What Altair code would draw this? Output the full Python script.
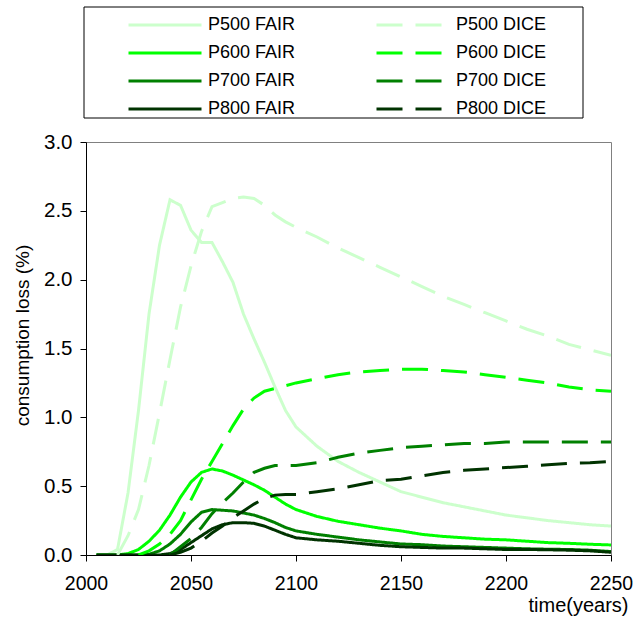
import altair as alt
import pandas as pd

years = [2005, 2010, 2015, 2020, 2025, 2030, 2035, 2040, 2045, 2050, 2055, 2060, 2065,
         2070, 2075, 2080, 2085, 2090, 2095, 2100, 2110, 2120, 2130, 2140, 2150, 2160,
         2170, 2180, 2190, 2200, 2210, 2220, 2230, 2240, 2250]

p500_fair = [0, 0, 0.04, 0.45, 1.05, 1.75, 2.25, 2.58, 2.54, 2.36, 2.27, 2.27, 2.13,
             1.98, 1.75, 1.57, 1.40, 1.22, 1.05, 0.93, 0.79, 0.68, 0.60, 0.53, 0.46, 0.42,
             0.38, 0.35, 0.32, 0.29, 0.27, 0.25, 0.235, 0.22, 0.21]
p500_dice = [None, None, 0, 0.14, 0.33, 0.65, 1.03, 1.42, 1.80, 2.10, 2.35, 2.53, 2.56,
             2.59, 2.60, 2.59, 2.54, 2.47, 2.42, 2.38, 2.31, 2.23, 2.16, 2.09, 2.02, 1.95,
             1.88, 1.82, 1.76, 1.70, 1.64, 1.59, 1.53, 1.49, 1.45]
p600_fair = [0, 0, 0, 0.01, 0.04, 0.10, 0.18, 0.29, 0.42, 0.53, 0.60, 0.625, 0.61,
             0.58, 0.545, 0.51, 0.47, 0.42, 0.37, 0.33, 0.28, 0.245, 0.22, 0.195, 0.175, 0.15,
             0.135, 0.125, 0.115, 0.11, 0.10, 0.09, 0.085, 0.078, 0.073]
p600_dice = [None, None, None, None, 0, 0.03, 0.08, 0.15, 0.25, 0.40, 0.55, 0.68, 0.81,
             0.94, 1.06, 1.14, 1.19, 1.21, 1.23, 1.25, 1.28, 1.31, 1.33, 1.34, 1.35, 1.35,
             1.34, 1.33, 1.31, 1.29, 1.27, 1.25, 1.22, 1.20, 1.19]
p700_fair = [0, 0, 0, 0, 0, 0.005, 0.03, 0.08, 0.15, 0.24, 0.31, 0.33, 0.325,
             0.32, 0.305, 0.29, 0.265, 0.235, 0.20, 0.175, 0.15, 0.13, 0.11, 0.095, 0.08, 0.075,
             0.065, 0.06, 0.055, 0.05, 0.045, 0.042, 0.04, 0.035, 0.025]
p700_dice = [None, None, None, None, None, None, None, 0, 0.06, 0.12, 0.20, 0.30, 0.38,
             0.45, 0.53, 0.60, 0.63, 0.65, 0.65, 0.65, 0.67, 0.71, 0.74, 0.76, 0.78, 0.79,
             0.80, 0.81, 0.81, 0.82, 0.82, 0.82, 0.82, 0.82, 0.82]
p800_fair = [0, 0, 0, 0, 0, 0, 0, 0.01, 0.04, 0.09, 0.14, 0.19, 0.22,
             0.235, 0.235, 0.23, 0.21, 0.18, 0.15, 0.125, 0.11, 0.10, 0.085, 0.07, 0.06, 0.055,
             0.05, 0.05, 0.045, 0.04, 0.04, 0.038, 0.035, 0.03, 0.02]
p800_dice = [None, None, None, None, None, None, None, 0, 0.02, 0.05, 0.10, 0.16, 0.21,
             0.27, 0.32, 0.37, 0.41, 0.435, 0.44, 0.44, 0.46, 0.48, 0.51, 0.54, 0.55, 0.575,
             0.60, 0.615, 0.625, 0.635, 0.645, 0.655, 0.665, 0.67, 0.68]

series_names = ["P500 FAIR", "P600 FAIR", "P700 FAIR", "P800 FAIR",
                "P500 DICE", "P600 DICE", "P700 DICE", "P800 DICE"]
series_values = [p500_fair, p600_fair, p700_fair, p800_fair,
                 p500_dice, p600_dice, p700_dice, p800_dice]
colors = ["#CCFFCC", "#00FF00", "#008000", "#003300",
          "#CCFFCC", "#00FF00", "#008000", "#003300"]
dashes = [[1, 0], [1, 0], [1, 0], [1, 0], [26, 13], [26, 13], [26, 13], [26, 13]]

x_ticks = [2000, 2050, 2100, 2150, 2200, 2250]
y_ticks = [0, 0.5, 1.0, 1.5, 2.0, 2.5, 3.0]

rows = []
for name, vals in zip(series_names, series_values):
    for yr, v in zip(years, vals):
        if v is not None:
            rows.append({"year": yr, "loss": v, "series": name})
df = pd.DataFrame(rows)

FONT = "Liberation Sans"

legend = alt.Legend(
    title=None, orient="none", legendX=41, legendY=-126, columns=2,
    columnPadding=79, rowPadding=10, clipHeight=18, symbolType="stroke",
    symbolSize=5329, symbolStrokeWidth=3, labelFontSize=18, labelFont=FONT,
    labelOffset=5, padding=0, labelLimit=300, labelColor="black",
)

lines = alt.Chart(df).mark_line(strokeWidth=3, clip=True).encode(
    x=alt.X("year:Q",
            scale=alt.Scale(domain=[2000, 2250], nice=False, zero=False),
            axis=alt.Axis(values=x_ticks, format="d", title="time(years)", grid=False,
                          labelFlush=False,
                          labelFontSize=19.5, labelPadding=13, tickSize=6,
                          labelFont=FONT, titleFont=FONT, titleFontWeight="normal",
                          labelColor="black", titleColor="black",
                          domainColor="black", tickColor="black",
                          titleFontSize=20, titleX=542, titleY=56,
                          titleAlign="right", titleBaseline="alphabetic")),
    y=alt.Y("loss:Q",
            scale=alt.Scale(domain=[0, 3], nice=False),
            axis=alt.Axis(values=y_ticks, format=".1f", title="consumption loss (%)",
                          grid=False, labelFlush=False,
                          labelFontSize=20.5, labelPadding=8, tickSize=6,
                          labelFont=FONT, titleFont=FONT, titleFontWeight="normal",
                          labelColor="black", titleColor="black",
                          domainColor="black", tickColor="black",
                          titleFontSize=19, titleX=-64, titleY=193, titleAngle=270,
                          titleAlign="center", titleBaseline="middle")),
    color=alt.Color("series:N", scale=alt.Scale(domain=series_names, range=colors),
                    legend=legend),
    strokeDash=alt.StrokeDash("series:N",
                              scale=alt.Scale(domain=series_names, range=dashes),
                              legend=legend),
)

frame = alt.Chart(pd.DataFrame({"a": [0]})).mark_rect(
    fillOpacity=0, stroke="black", strokeWidth=1, clip=False
).encode(
    x=alt.value(-2), x2=alt.value(497), y=alt.value(-135), y2=alt.value(-24)
)

chart = alt.layer(lines, frame).properties(
    width=525, height=413,
    padding={"left": 86, "top": 142, "right": 24, "bottom": 65},
    autosize=alt.AutoSizeParams(type="none"),
    background="white",
).configure_view(
    stroke="#808080", strokeWidth=1
)

chart.save("out.html", embed_options={"renderer": "svg", "actions": False})
